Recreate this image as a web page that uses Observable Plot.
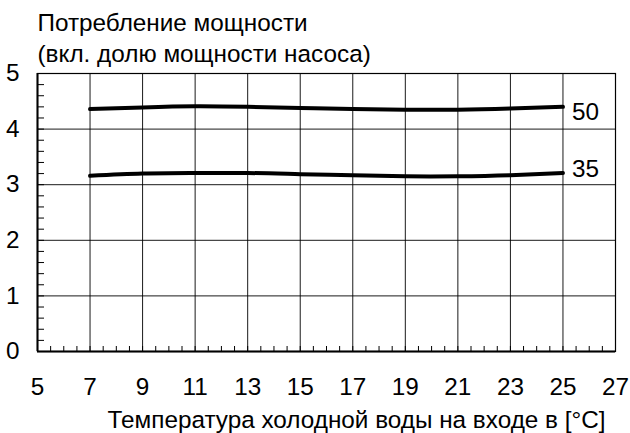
<!DOCTYPE html>
<html>
<head>
<meta charset="utf-8">
<script src="https://cdn.jsdelivr.net/npm/d3@7"></script>
<script src="https://cdn.jsdelivr.net/npm/@observablehq/plot@0.6"></script>
<style>
  body { margin: 0; background: #fff; }
  svg { font-family: "Liberation Sans", Arial, sans-serif; }
</style>
</head>
<body>
<div id="chart"></div>
<script>
const temps = [7, 9, 11, 13, 15, 17, 19, 21, 23, 25];
const power50 = [4.36, 4.39, 4.41, 4.40, 4.38, 4.36, 4.35, 4.35, 4.37, 4.40];
const power35 = [3.16, 3.20, 3.21, 3.21, 3.19, 3.17, 3.15, 3.15, 3.17, 3.21];
const seriesNames = ["50", "35"];
const xTicks = [5, 7, 9, 11, 13, 15, 17, 19, 21, 23, 25, 27];
const yTicks = [0, 1, 2, 3, 4, 5];
const xMinor = d3.range(5, 27.001, 0.5);
const yMinor = d3.range(0, 5.001, 0.2);
const titleText = "Потребление мощности\n(вкл. долю мощности насоса)";
const xLabel = "Температура холодной воды на входе в [°C]";

const rows = [];
[power50, power35].forEach((vals, i) => {
  temps.forEach((t, j) => rows.push({series: seriesNames[i], t, v: vals[j]}));
});
const labelShift = {"50": 5, "35": -4};

const chart = Plot.plot({
  width: 630,
  height: 433,
  marginLeft: 37,
  marginRight: 15,
  marginTop: 73,
  marginBottom: 82,
  style: {fontSize: "24.3px", fontFamily: "Liberation Sans, Arial, sans-serif", color: "#000", background: "#fff"},
  x: {domain: [5, 27], label: null},
  y: {domain: [0, 5], label: null},
  marks: [
    Plot.gridX(xTicks, {stroke: "#000", strokeOpacity: 0.9, strokeWidth: 1}),
    Plot.gridY(yTicks, {stroke: "#000", strokeOpacity: 0.9, strokeWidth: 1}),
    Plot.frame({stroke: "#000", strokeWidth: 1.2}),
    Plot.ruleX([5], {stroke: "#000", strokeWidth: 2}),
    Plot.ruleY([0], {stroke: "#000", strokeWidth: 2}),
    Plot.axisX(xMinor, {tickSize: -5, text: null, label: null, stroke: "#000", strokeWidth: 1}),
    Plot.axisY(yMinor, {tickSize: -7, text: null, label: null, stroke: "#000", strokeWidth: 1}),
    Plot.axisX(xTicks, {tickSize: 0, tickPadding: 26, label: null, tickFormat: d => String(d), fill: "#000"}),
    Plot.axisY(yTicks, {tickSize: 0, tickPadding: 18, label: null, tickFormat: d => String(d), fill: "#000"}),
    Plot.line(rows, {x: "t", y: "v", z: "series", stroke: "#000", strokeWidth: 4, curve: "natural"}),
    ...seriesNames.map(s =>
      Plot.text(rows.filter(r => r.series === s), Plot.selectLast({x: "t", y: "v", text: "series", textAnchor: "start", dx: 9, dy: labelShift[s], fill: "#000"}))
    ),
    Plot.text([titleText], {frameAnchor: "top-left", text: d => d, textAnchor: "start", lineAnchor: "bottom", lineHeight: 1.25, dy: -12, fill: "#000"}),
    Plot.text([xLabel], {frameAnchor: "bottom-right", text: d => d, textAnchor: "end", lineAnchor: "top", dx: -10, dy: 59, fill: "#000"})
  ]
});
document.getElementById("chart").appendChild(chart);
</script>
</body>
</html>
